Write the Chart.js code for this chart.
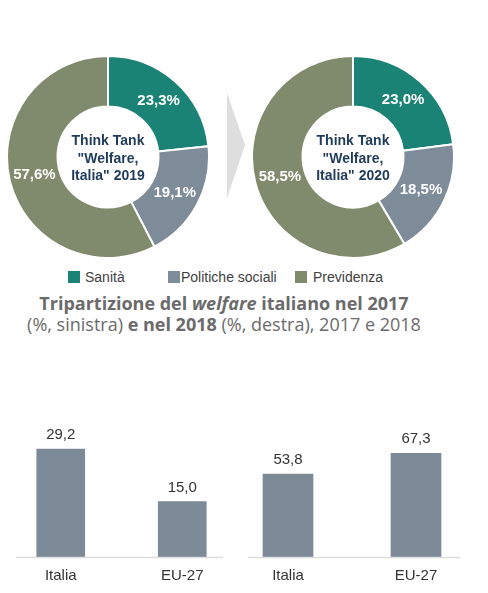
<!DOCTYPE html>
<html><head><meta charset="utf-8">
<script src="https://cdn.jsdelivr.net/npm/chart.js@4.4.0/dist/chart.umd.min.js"></script>
<style>
html,body{margin:0;padding:0;background:#fff;width:488px;height:593px;overflow:hidden;position:relative;font-family:"Liberation Sans",Arial,sans-serif;}
.abs{position:absolute;}
#title{position:absolute;left:0;width:448px;top:293px;text-align:center;font-family:"Open Sans",sans-serif;font-size:18px;line-height:21px;color:#6b6b6b;white-space:nowrap;}
.leg{position:absolute;font-size:14px;color:#404040;line-height:16px;}
.sw{position:absolute;width:12px;height:12px;}
</style></head>
<body>
<canvas id="d1" class="abs" style="left:6px;top:55px;width:204px;height:204px"></canvas>
<canvas id="d2" class="abs" style="left:251px;top:55px;width:204px;height:204px"></canvas>
<svg class="abs" style="left:225px;top:92px" width="24" height="108"><polygon points="2,1 20,53 2,106" fill="#dedede"/></svg>
<div id="legend"></div>
<div id="title"><b>Tripartizione del <i>welfare</i> italiano nel 2017</b><br>(%, sinistra) <b>e nel 2018</b> (%, destra), 2017 e 2018</div>
<canvas id="b1" class="abs" style="left:0px;top:400px;width:243px;height:193px"></canvas>
<canvas id="b2" class="abs" style="left:224px;top:400px;width:256px;height:193px"></canvas>
<script>
const categories = ['Sanità', 'Politiche sociali', 'Previdenza'];
const values2019 = [23.3, 19.1, 57.6];
const values2020 = [23.0, 18.5, 58.5];
const centerText2019 = ['Think Tank', '"Welfare,', 'Italia" 2019'];
const centerText2020 = ['Think Tank', '"Welfare,', 'Italia" 2020'];
const barCategories = ['Italia', 'EU-27'];
const barValuesLeft = [29.2, 15.0];
const barValuesRight = [53.8, 67.3];
const sliceColors = ['#1b8375', '#7e8b98', '#7f8b6c'];
const barColor = '#7d8a97';

const fmt = v => v.toFixed(1).replace('.', ',');

// legend
const legPos = [[68, 85], [168, 181], [295, 313]];
const legend = document.getElementById('legend');
categories.forEach((c, i) => {
  const sw = document.createElement('div');
  sw.className = 'sw'; sw.style.left = legPos[i][0] + 'px'; sw.style.top = '271px'; sw.style.background = sliceColors[i];
  legend.appendChild(sw);
  const t = document.createElement('div');
  t.className = 'leg'; t.style.left = legPos[i][1] + 'px'; t.style.top = '269px'; t.textContent = c;
  legend.appendChild(t);
});

const donutLabels = {
  id: 'donutLabels',
  afterDatasetsDraw(chart, args, opts) {
    const ctx = chart.ctx;
    const meta = chart.getDatasetMeta(0);
    ctx.save();
    ctx.fillStyle = '#ffffff';
    ctx.font = 'bold 15px "Liberation Sans", Arial, sans-serif';
    ctx.textAlign = 'center'; ctx.textBaseline = 'middle';
    meta.data.forEach((arc, i) => {
      const p = arc.tooltipPosition();
      ctx.fillText(fmt(chart.data.datasets[0].data[i]) + '%', p.x, p.y);
    });
    const cx = (chart.chartArea.left + chart.chartArea.right) / 2;
    const cy = (chart.chartArea.top + chart.chartArea.bottom) / 2;
    ctx.fillStyle = '#1f3a5a';
    ctx.font = 'bold 14px "Liberation Sans", Arial, sans-serif';
    const lines = opts.lines;
    lines.forEach((l, i) => ctx.fillText(l, cx, cy + 2 + (i - 1) * 17.5));
    ctx.restore();
  }
};

function donut(id, values, lines) {
  new Chart(document.getElementById(id), {
    type: 'doughnut',
    data: { labels: categories, datasets: [{ data: values, backgroundColor: sliceColors, borderColor: '#ffffff', borderWidth: 2 }] },
    options: {
      responsive: false, animation: false, cutout: '50%',
      layout: { padding: 0 },
      plugins: { legend: { display: false }, tooltip: { enabled: false }, donutLabels: { lines } }
    },
    plugins: [donutLabels]
  });
}
donut('d1', values2019, centerText2019);
donut('d2', values2020, centerText2020);

const barExtras = {
  id: 'barExtras',
  afterDatasetsDraw(chart, args, opts) {
    const ctx = chart.ctx;
    const a = chart.chartArea;
    const xs = chart.scales.x;
    ctx.save();
    ctx.strokeStyle = '#dcdcdc'; ctx.lineWidth = 1.5;
    ctx.beginPath();
    ctx.moveTo(a.left + opts.insetL, a.bottom + 0.5);
    ctx.lineTo(a.right - opts.insetR, a.bottom + 0.5);
    ctx.stroke();
    ctx.fillStyle = '#333333';
    ctx.font = '15px "Liberation Sans", Arial, sans-serif';
    ctx.textAlign = 'center'; ctx.textBaseline = 'middle';
    const meta = chart.getDatasetMeta(0);
    meta.data.forEach((bar, i) => {
      ctx.fillText(fmt(chart.data.datasets[0].data[i]), bar.x, bar.y - 14);
    });
    chart.data.labels.forEach((lab, i) => {
      ctx.fillText(lab, xs.getPixelForValue(i), a.bottom + 19);
    });
    ctx.restore();
  }
};

function bars(id, values, max, thickness, insetL, insetR) {
  new Chart(document.getElementById(id), {
    type: 'bar',
    data: { labels: barCategories, datasets: [{ data: values, backgroundColor: barColor, barThickness: thickness }] },
    options: {
      responsive: false, animation: false,
      layout: { padding: { top: 9, left: 0, right: 0, bottom: 36 } },
      scales: {
        x: { display: false },
        y: { display: false, min: 0, max: max }
      },
      plugins: { legend: { display: false }, tooltip: { enabled: false }, barExtras: { insetL, insetR } }
    },
    plugins: [barExtras]
  });
}
bars('b1', barValuesLeft, 40, 48, 16, 20);
bars('b2', barValuesRight, 96, 50, 24, 20);
</script>
</body></html>
